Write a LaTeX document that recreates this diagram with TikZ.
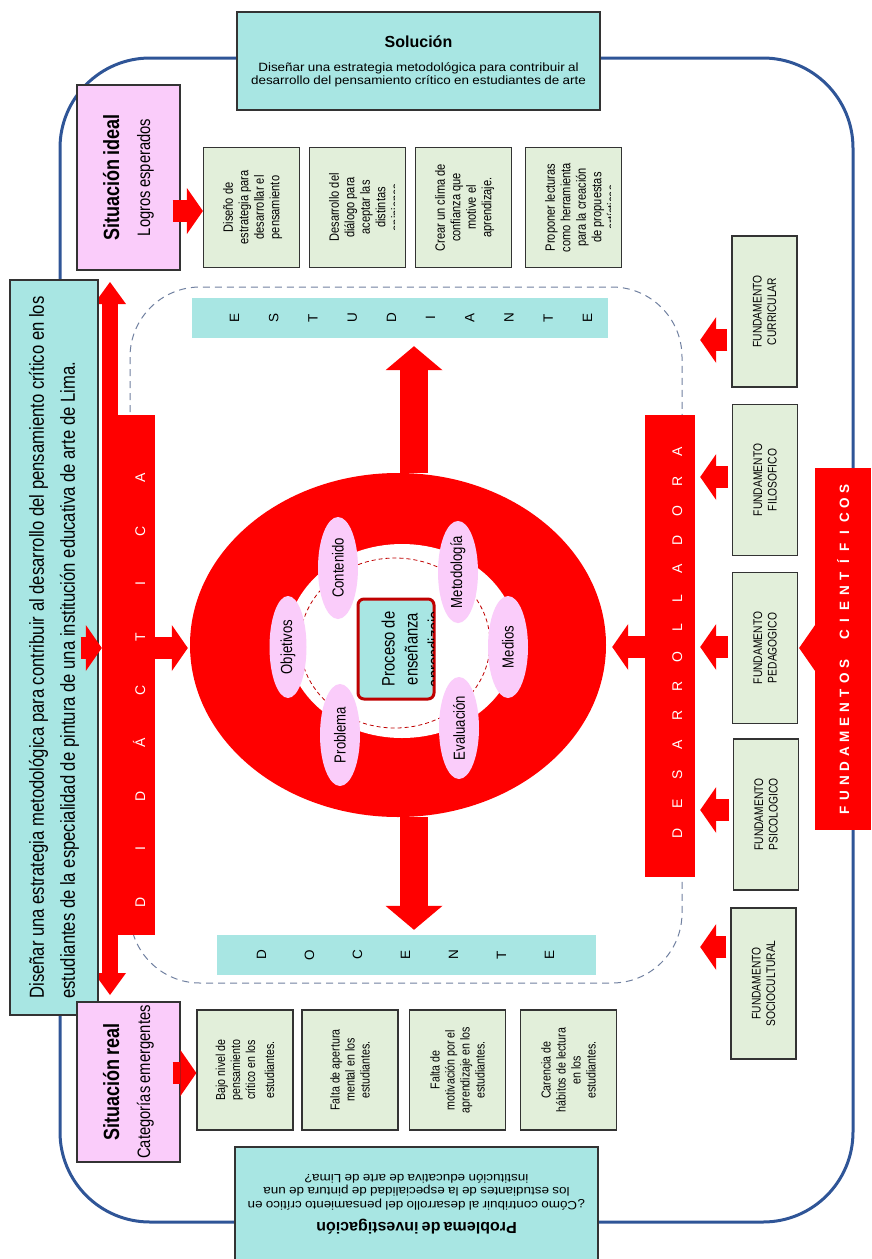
\documentclass[tikz,border=0pt]{standalone}
\usepackage{fontspec}
\setmainfont{Liberation Sans}
\newfontfamily\narrowfont[FakeStretch=0.82]{Liberation Sans}
\newfontfamily\widefont[FakeStretch=1.12]{Liberation Sans}
\usetikzlibrary{arrows.meta,shapes.geometric}

\definecolor{cyanfill}{RGB}{168,230,227}
\definecolor{pinkfill}{RGB}{250,204,250}
\definecolor{greenfill}{RGB}{226,239,218}
\definecolor{framecol}{RGB}{47,85,151}
\definecolor{dashcol}{RGB}{112,128,160}
\definecolor{darkred}{RGB}{192,0,0}

\newcommand{\fsz}[2]{\fontsize{#1}{#2}\selectfont}

\tikzset{
  boxline/.style={draw=black!80, line width=1.2pt, inner sep=0pt},
  cyanbox/.style={boxline, fill=cyanfill},
  pinkbox/.style={boxline, fill=pinkfill, rotate=90, align=center, minimum height=103pt},
  greenbox/.style={boxline, fill=greenfill, rotate=90, minimum width=120pt, minimum height=96pt,
    align=center, font=\narrowfont\fsz{13}{15}},
  greentext/.style={rotate=90, align=center, inner sep=0pt, font=\narrowfont\fsz{13.5}{15.5}},
  fundbox/.style={boxline, fill=greenfill, rotate=90, minimum width=151pt, minimum height=65pt,
    align=center, font=\narrowfont\fsz{12.5}{14.5}},
  element/.style={ellipse, fill=pinkfill, rotate=90, inner sep=0pt, minimum width=102pt,
    minimum height=40pt, font=\narrowfont\fsz{16}{16}},
  redbar/.style={fill=red, inner sep=0pt},
  letter/.style={rotate=90, inner sep=0pt, text height=1.6ex, text depth=0pt},
  redarrow/.style={draw=red, line width=22pt, -{Triangle[length=16pt,width=46pt,line width=0pt]}},
  bigarrow/.style={draw=red, line width=28pt, -{Triangle[length=24pt,width=57pt,line width=0pt]}},
  dblarrow/.style={draw=red, line width=16pt,
    {Triangle[length=22pt,width=32pt,line width=0pt]}-{Triangle[length=22pt,width=32pt,line width=0pt]}}
}

\begin{document}
\begin{tikzpicture}[x=1pt,y=-1pt]
\useasboundingbox (0,0) rectangle (871,1259);

% marcos
\draw[framecol, line width=3pt, rounded corners=90pt] (60,58) rectangle (853,1222);
\draw[dashcol, line width=1pt, dash pattern=on 7pt off 5pt, rounded corners=70pt] (130,287) rectangle (682,983);

% nucleo del proceso
\node[ellipse, fill=red, minimum width=416pt, minimum height=344pt, inner sep=0pt] (core) at (398,645) {};
\fill[white] (402,641) ellipse [x radius=115pt, y radius=97pt];
\draw[darkred, line width=0.8pt, dash pattern=on 4pt off 3pt] (395,643) ellipse [x radius=95pt, y radius=85pt];

\node[element] (contenido) at (338,568) {Contenido};
\node[element] (metodologia) at (458,572) {Metodología};
\node[element, minimum height=37pt] (objetivos) at (288,647) {Objetivos};
\node[element] (medios) at (508,647) {Medios};
\node[element] (problema) at (340,735) {Problema};
\node[element] (evaluacion) at (459,728) {Evaluación};

\node[rotate=90, draw=darkred, line width=3pt, fill=cyanfill, rounded corners=6pt,
  minimum width=100pt, minimum height=76pt] (proceso) at (396,649) {};
\begin{scope}
  \clip (359,601) rectangle (433,697);
  \node[rotate=90, align=center, inner sep=0pt, font=\narrowfont\fsz{18}{23}] (procesotext) at (413,649) {Proceso de\\enseñanza\\aprendizaje};
\end{scope}

% estudiante y docente
\node[fill=cyanfill, minimum width=416pt, minimum height=40pt, inner sep=0pt] (estudiante) at (400,318) {};
\foreach \ch [count=\i from 0] in {E,S,T,U,D,I,A,N,T,E}
  \node[letter, font=\fsz{13.5}{13.5}] (est-\i) at (235+\i*39.2,318) {\ch};
\node[fill=cyanfill, minimum width=379pt, minimum height=40pt, inner sep=0pt] (docente) at (406.5,955) {};
\foreach \ch [count=\i from 0] in {D,O,C,E,N,T,E}
  \node[letter, font=\fsz{13.5}{13.5}] (doc-\i) at (262+\i*48,955) {\ch};

\coordinate (axis) at (414,0);
\coordinate (esttip) at ([yshift=-8pt]estudiante.south);
\coordinate (doctip) at ([yshift=5pt]docente.north);
\draw[bigarrow] (core.north -| axis) -- (esttip -| axis);
\draw[bigarrow] (core.south -| axis) -- (doctip -| axis);

% didactica
\coordinate (didtop) at (110,282);
\coordinate (didbot) at (110,995);
\draw[dblarrow] (didtop) -- (didbot);
\node[redbar, minimum width=53pt, minimum height=520pt] (didactica) at (128.5,675) {};
\foreach \ch [count=\i from 0] in {D,I,D,Á,C,T,I,C,A}
  \node[letter, text=white, font=\fsz{14}{14}] (did-\i) at (141,902-\i*53) {\ch};

% desarrolladora
\node[redbar, minimum width=50pt, minimum height=462pt] (desarrolladora) at (670,646) {};
\foreach \ch [count=\i from 0] in {D,E,S,A,R,R,O,L,L,A,D,O,R,A}
  \node[letter, text=white, font=\fsz{14}{14}] (des-\i) at (678,833-\i*29.3) {\ch};

% fundamentos cientificos
\node[redbar, minimum width=56pt, minimum height=362pt] (cientificos) at (843,649) {};
\foreach \ch [count=\i from 0] in {F,U,N,D,A,M,E,N,T,O,S,{},C,I,E,N,T,Í,F,I,C,O,S}
  \node[letter, text=white, font=\bfseries\fsz{13.5}{13.5}] (fc-\i) at (845,810-\i*14.6) {\ch};

\node[fundbox] (curricular) at (764.5,311.5) {FUNDAMENTO\\CURRICULAR};
\node[fundbox] (filosofico) at (765,480) {FUNDAMENTO\\FILOSOFICO};
\node[fundbox] (pedagogico) at (765,648) {FUNDAMENTO\\PEDAGOGICO};
\node[fundbox] (psicologico) at (766,814.5) {FUNDAMENTO\\PSICOLOGICO};
\node[fundbox] (sociocultural) at (763.5,983.5) {FUNDAMENTO\\SOCIOCULTURAL};

\foreach \fund/\yy in {curricular/340, filosofico/477, pedagogico/647, psicologico/810, sociocultural/947}
  \draw[redarrow] ([xshift=-4pt]\fund.north |- 0,\yy) -- ([xshift=5pt]desarrolladora.east |- 0,\yy);
\draw[redarrow] ([xshift=15pt]cientificos.west |- pedagogico.south) -- ([xshift=1pt]pedagogico.south);

\draw[redarrow] (desarrolladora.west |- 0,647) -- ([xshift=6pt]core.east |- 0,647);
\draw[redarrow] (didactica.east |- 0,648) -- ([xshift=-2pt]core.west |- 0,648);

% objetivo general
\node[cyanbox, rotate=90, minimum width=735pt, minimum height=88pt, align=left,
  font=\narrowfont\fsz{20.3}{31}] (objetivo) at (54,647.5)
  {Diseñar una estrategia metodológica para contribuir al desarrollo del pensamiento crítico en los\\
   estudiantes de la especialidad de pintura de una institución educativa de arte de Lima.};
\draw[redarrow] ([xshift=-18pt]objetivo.south |- 0,648) -- (didactica.west |- 0,648);

% solucion
\node[cyanbox, minimum width=363pt, minimum height=98pt, text width=350pt, align=center] (solucion) at (418.5,61)
  {{\bfseries\fsz{16}{18}Solución\par}\vspace{11pt}
   {\widefont\fsz{12}{13}Diseñar una estrategia metodológica para contribuir al\\
    desarrollo del pensamiento crítico en estudiantes de arte\par}};

% problema
\node[cyanbox, rotate=180, minimum width=363pt, minimum height=115pt, text width=350pt, align=center] (investigacion) at (416.5,1204.5)
  {{\bfseries\fsz{16}{18}Problema de investigación\par}\vspace{8pt}
   {\widefont\fsz{12}{13.5}¿Cómo contribuir al desarrollo del pensamiento crítico en\\
    los estudiantes de la especialidad de pintura de una\\
    institución educativa de arte de Lima?\par}};

% situacion ideal
\node[pinkbox, minimum width=185pt, text width=180pt] (ideal) at (128.5,177.5)
  {{\narrowfont\bfseries\fsz{22}{25}Situación ideal\par}\vspace{10pt}
   {\narrowfont\fsz{18}{21}Logros esperados\par}};
\node[greenbox] (logro1) at (251.5,207.5) {};
\node[greenbox] (logro2) at (357.5,207.5) {};
\node[greenbox] (logro3) at (463.5,207.5) {};
\node[greenbox] (logro4) at (573.5,207.5) {};
\begin{scope}
  \clip (logro1.north west) rectangle ([xshift=-12pt]logro1.south east);
  \node[greentext, anchor=north] (logrotext1) at ([xshift=20pt]logro1.north) {Diseño de\\estrategia para\\desarrollar el\\pensamiento};
\end{scope}
\begin{scope}
  \clip (logro2.north west) rectangle ([xshift=-12pt]logro2.south east);
  \node[greentext, anchor=north] (logrotext2) at ([xshift=20pt]logro2.north) {Desarrollo del\\diálogo para\\aceptar las\\distintas\\opiniones};
\end{scope}
\begin{scope}
  \clip (logro3.north west) rectangle ([xshift=-12pt]logro3.south east);
  \node[greentext, anchor=north] (logrotext3) at ([xshift=20pt]logro3.north) {Crear un clima de\\confianza que\\motive el\\aprendizaje.};
\end{scope}
\begin{scope}
  \clip (logro4.north west) rectangle ([xshift=-12pt]logro4.south east);
  \node[greentext, anchor=north] (logrotext4) at ([xshift=20pt]logro4.north) {Proponer lecturas\\como herramienta\\para la creación\\de propuestas\\artísticas};
\end{scope}
\draw[redarrow] ([xshift=-8pt]ideal.south |- 0,211) -- (logro1.north |- 0,211);

% situacion real
\node[pinkbox, minimum width=160pt, text width=158pt] (real) at (128.5,1082)
  {{\narrowfont\bfseries\fsz{22}{25}Situación real\par}\vspace{10pt}
   {\narrowfont\fsz{18}{21}Categorías emergentes\par}};
\node[greenbox] (real1) at (245,1070) {Bajo nivel de\\pensamiento\\crítico en los\\[4pt]estudiantes.};
\node[greenbox] (real2) at (350,1070) {Falta de apertura\\mental en los\\estudiantes.};
\node[greenbox] (real3) at (457.5,1070) {Falta de\\motivación por el\\aprendizaje en los\\estudiantes.};
\node[greenbox] (real4) at (568.5,1070) {Carencia de\\hábitos de lectura\\en los\\estudiantes.};
\draw[redarrow] ([xshift=-8pt]real.south |- 0,1073) -- (real1.north |- 0,1073);

\end{tikzpicture}
\end{document}
